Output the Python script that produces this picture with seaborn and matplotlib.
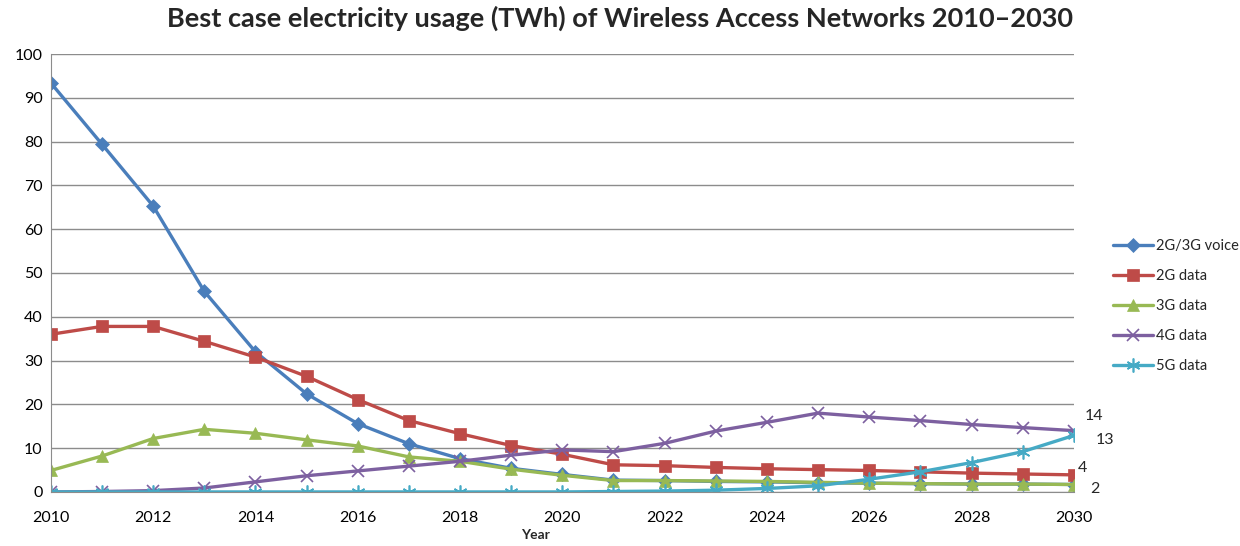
import pandas as pd
import seaborn as sns
import matplotlib
matplotlib.use('Agg')
import matplotlib.pyplot as plt

years = list(range(2010, 2031))
voice_2g3g = [93.4, 79.4, 65.3, 45.8, 32.0, 22.4, 15.6, 11.0, 7.6, 5.4, 4.0, 2.7, 2.6, 2.4, 2.3, 2.1, 2.0, 1.9, 1.8, 1.8, 1.7]
data_2g = [36.0, 37.8, 37.8, 34.4, 30.8, 26.4, 21.1, 16.3, 13.3, 10.6, 8.6, 6.2, 6.0, 5.6, 5.3, 5.1, 4.9, 4.6, 4.3, 4.1, 3.9]
data_3g = [4.9, 8.2, 12.2, 14.3, 13.4, 11.9, 10.5, 8.0, 7.0, 5.2, 3.8, 2.6, 2.6, 2.5, 2.4, 2.2, 2.0, 1.9, 1.8, 1.8, 1.7]
data_4g = [0.0, 0.1, 0.3, 0.9, 2.3, 3.7, 4.8, 5.9, 7.0, 8.4, 9.6, 9.2, 11.1, 13.9, 15.9, 18.0, 17.1, 16.3, 15.4, 14.7, 14.0]
data_5g = [0.0, 0.0, 0.0, 0.0, 0.0, 0.0, 0.0, 0.0, 0.0, 0.0, 0.0, 0.1, 0.2, 0.4, 0.8, 1.4, 2.9, 4.6, 6.7, 9.2, 12.9]
series_names = ['2G/3G voice', '2G data', '3G data', '4G data', '5G data']
end_labels = ['14', '13', '4', '2']

df = pd.DataFrame({'Year': years, '2G/3G voice': voice_2g3g, '2G data': data_2g,
                   '3G data': data_3g, '4G data': data_4g, '5G data': data_5g})
long = df.melt(id_vars='Year', var_name='series', value_name='TWh')

colors = ['#4A7EBB', '#BE4B48', '#98B954', '#7D60A0', '#46AAC5']
markers = ['D', 's', '^', 'x', (6, 2, 0)]
sizes = [7, 9, 9, 9, 10]

sns.set_style('white')
plt.rcParams['font.family'] = ['Lato', 'DejaVu Sans']

fig = plt.figure(figsize=(12.4, 5.46), dpi=100)
ax = fig.add_axes([0.041, 0.099, 0.825, 0.802])

for name, c, m, s in zip(series_names, colors, markers, sizes):
    sub = long[long['series'] == name]
    sns.lineplot(data=sub, x='Year', y='TWh', color=c, marker=m, markersize=s,
                 markeredgecolor=c, markeredgewidth=1.2 if m in ('x',) or isinstance(m, tuple) else 0.5,
                 linewidth=2.4, label=name, ax=ax)

ax.set_xlim(2010, 2030)
ax.set_ylim(0, 100)
ax.set_xticks(range(2010, 2031, 2))
ax.set_yticks(range(0, 101, 10))
ax.yaxis.grid(True, color='#8c8c8c', linewidth=1)
ax.xaxis.grid(False)
for side in ['top', 'right']:
    ax.spines[side].set_visible(False)
for side in ['left', 'bottom']:
    ax.spines[side].set_color('#8c8c8c')
ax.tick_params(axis='both', labelsize=11.5, colors='black', length=0)
ax.tick_params(axis='x', pad=14)
ax.tick_params(axis='y', pad=6)
ax.set_ylabel('')
ax.set_xlabel('Year', fontsize=10, fontweight='bold')
ax.xaxis.set_label_coords(0.474, -0.084)

# end labels
ax.annotate(end_labels[0], (2030, data_4g[-1]), xytext=(8, 8), textcoords='offset points', fontsize=11.5)
ax.annotate(end_labels[1], (2030, data_5g[-1]), xytext=(16, -6), textcoords='offset points', fontsize=11.5)
ax.annotate(end_labels[2], (2030, data_2g[-1]), xytext=(3, 2), textcoords='offset points', fontsize=11.5)
ax.annotate(end_labels[3], (2030, data_3g[-1]), xytext=(12, -6), textcoords='offset points', fontsize=11.5)

ax.legend(loc='upper left', bbox_to_anchor=(1.025, 0.608), frameon=False, fontsize=10.5,
          labelspacing=1.1, handlelength=2.8, handletextpad=0.2)

fig.suptitle('Best case electricity usage (TWh) of Wireless Access Networks 2010\u20132030',
             x=0.5, y=0.99, fontsize=19.5, fontweight='bold')

fig.savefig('out.png', dpi=100)
